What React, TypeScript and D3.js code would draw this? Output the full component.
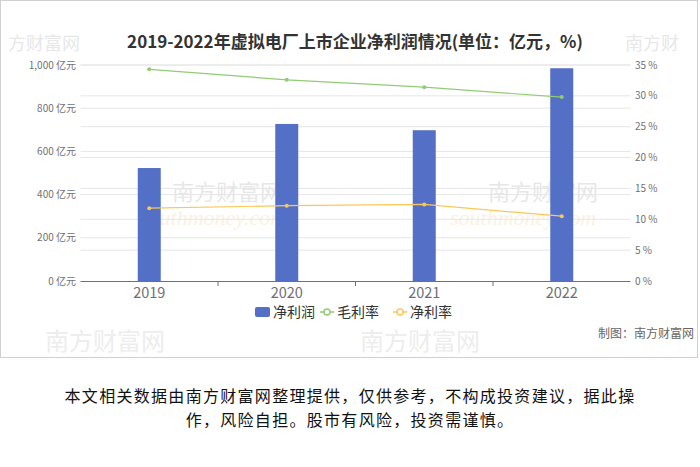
import React from "react";
import * as d3 from "d3";

const years = ["2019", "2020", "2021", "2022"];
const netProfit = [523, 727, 698, 985];
const grossMargin = [34.3, 32.6, 31.4, 29.8];
const netMargin = [11.8, 12.2, 12.4, 10.5];
const leftTicks = [0, 200, 400, 600, 800, 1000];
const rightTicks = [0, 5, 10, 15, 20, 25, 30, 35];

const W = 700;
const H = 467;
const M = { left: 80.5, right: 630.5, top: 65, bottom: 281 };
const BLUE = "#5470c6";
const GREEN = "#91cc75";
const ORANGE = "#fac858";
const FONT = "'Noto Sans CJK SC', 'Noto Sans', sans-serif";

export default function App() {
  const x = d3.scaleBand<string>().domain(years).range([M.left, M.right]);
  const yL = d3.scaleLinear().domain([0, 1000]).range([M.bottom, M.top]);
  const yR = d3.scaleLinear().domain([0, 35]).range([M.bottom, M.top]);
  const cx = (d: string) => (x(d) as number) + x.bandwidth() / 2;
  const barW = 23;
  const line = (vals: number[]) =>
    d3.line<number>().x((_, i) => cx(years[i])).y((v) => yR(v))(vals) as string;
  const fmt = d3.format(",");

  const wm = (t: string, xx: number, yy: number, size: number, color: string, italic = false) => (
    <text
      key={t + xx + yy}
      x={xx}
      y={yy}
      fontSize={size}
      fill={color}
      fontStyle={italic ? "italic" : "normal"}
      fontFamily={italic ? "'Liberation Serif', serif" : FONT}
      opacity={0.35}
    >
      {t}
    </text>
  );

  return (
    <svg width={W} height={H} style={{ position: "absolute", left: 0, top: 0, display: "block" }} fontFamily={FONT}>
      <rect x={0} y={0} width={W} height={H} fill="#fff" />
      <rect x={0.5} y={0.5} width={697} height={357} fill="#fff" stroke="#d0d0d0" />

      {/* watermarks */}
      <g>
        {wm("方财富网", 8, 50, 18, "#bbb")}
        {wm("南方财", 625, 50, 18, "#bbb")}
        {wm("南方财富网", 172, 200, 22, "#bbb")}
        {wm("南方财富网", 488, 200, 22, "#bbb")}
        {wm("southmoney.com", 140, 225, 22, "#f5d9a8", true)}
        {wm("southmoney.com", 450, 225, 22, "#f5d9a8", true)}
        {wm("南方财富网", 45, 350, 24, "#ccc")}
        {wm("南方财富网", 360, 350, 24, "#ccc")}
      </g>

      {/* grid lines */}
      {leftTicks.slice(1).map((t) => (
        <line key={"gl" + t} x1={M.left} x2={M.right} y1={yL(t)} y2={yL(t)} stroke="#e6e6e6" />
      ))}
      {rightTicks.slice(1).map((t) => (
        <line key={"gr" + t} x1={M.left} x2={M.right} y1={yR(t)} y2={yR(t)} stroke="#e6e6e6" />
      ))}

      {/* left axis labels */}
      {leftTicks.map((t) => (
        <text key={"lt" + t} x={76} y={yL(t)} dy="0.35em" textAnchor="end" fontSize={10} fill="#6e7079">
          {fmt(t)} 亿元
        </text>
      ))}
      {/* right axis labels */}
      {rightTicks.map((t) => (
        <text key={"rt" + t} x={635} y={yR(t)} dy="0.35em" textAnchor="start" fontSize={10} fill="#6e7079">
          {t} %
        </text>
      ))}

      {/* bars */}
      {years.map((yr, i) => (
        <rect key={"b" + yr} x={cx(yr) - barW / 2} y={yL(netProfit[i])} width={barW} height={M.bottom - yL(netProfit[i])} fill={BLUE} />
      ))}

      {/* x axis */}
      <line x1={M.left} x2={M.right} y1={M.bottom + 0.5} y2={M.bottom + 0.5} stroke="#6e7079" />
      {years.map((yr, i) =>
        i === 0 ? null : (
          <line key={"tk" + yr} x1={x(yr) as number} x2={x(yr) as number} y1={M.bottom} y2={M.bottom + 5} stroke="#6e7079" />
        )
      )}
      {years.map((yr) => (
        <text key={"xl" + yr} x={cx(yr)} y={293} dy="0.35em" textAnchor="middle" fontSize={14.5} fill="#6e7079">
          {yr}
        </text>
      ))}

      {/* lines */}
      <path d={line(grossMargin)} fill="none" stroke={GREEN} strokeWidth={1.2} />
      {grossMargin.map((v, i) => (
        <circle key={"gm" + i} cx={cx(years[i])} cy={yR(v)} r={2} fill={GREEN} />
      ))}
      <path d={line(netMargin)} fill="none" stroke={ORANGE} strokeWidth={1.2} />
      {netMargin.map((v, i) => (
        <circle key={"nm" + i} cx={cx(years[i])} cy={yR(v)} r={2} fill={ORANGE} />
      ))}

      {/* title */}
      <text x={355} y={42} dy="0.35em" textAnchor="middle" fontSize={17} fontWeight="bold" fill="#333">
        2019-2022年虚拟电厂上市企业净利润情况(单位：亿元，%)
      </text>

      {/* legend */}
      <g fontSize={14} fill="#333">
        <rect x={255} y={307} width={15} height={10} rx={2} fill={BLUE} />
        <text x={273} y={312} dy="0.35em">净利润</text>
        <line x1={320} x2={334} y1={312} y2={312} stroke={GREEN} strokeWidth={1.5} />
        <circle cx={327} cy={312} r={3} fill="#fff" stroke={GREEN} strokeWidth={1.5} />
        <text x={337} y={312} dy="0.35em">毛利率</text>
        <line x1={393} x2={407} y1={312} y2={312} stroke={ORANGE} strokeWidth={1.5} />
        <circle cx={400} cy={312} r={3} fill="#fff" stroke={ORANGE} strokeWidth={1.5} />
        <text x={410} y={312} dy="0.35em">净利率</text>
      </g>

      <text x={694} y={334} dy="0.35em" textAnchor="end" fontSize={12} fill="#666">
        制图：南方财富网
      </text>

      {/* disclaimer */}
      <g fontSize={16} fill="#111" textAnchor="middle" letterSpacing={1.3}>
        <text x={350} y={396} dy="0.35em">本文相关数据由南方财富网整理提供，仅供参考，不构成投资建议，据此操</text>
        <text x={350} y={420} dy="0.35em">作，风险自担。股市有风险，投资需谨慎。</text>
      </g>
    </svg>
  );
}
